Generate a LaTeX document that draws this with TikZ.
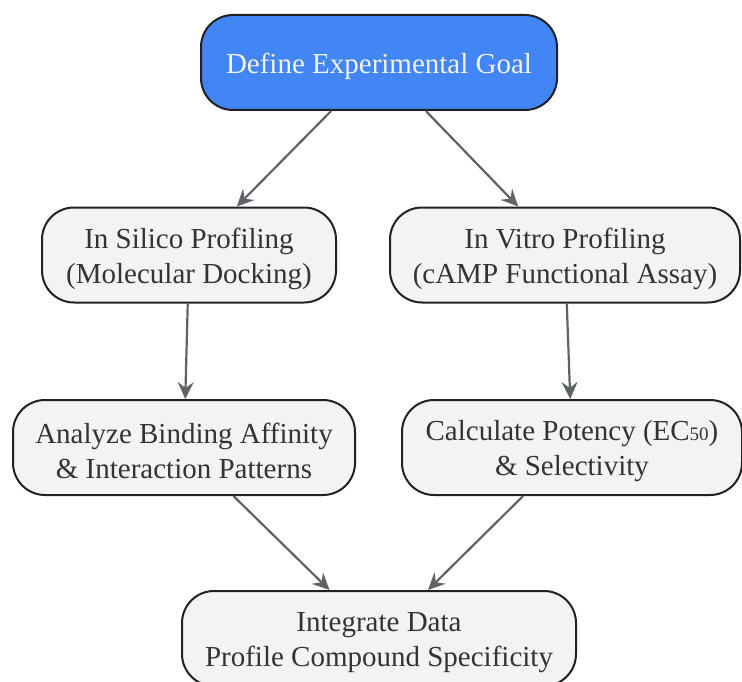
\documentclass[tikz,border=0pt]{standalone}
\usepackage{fontspec}
\setmainfont{Liberation Serif}
\usepackage{tikz}
\usetikzlibrary{arrows.meta}

\definecolor{goalblue}{HTML}{4285F4}
\definecolor{boxfill}{HTML}{F1F3F4}
\definecolor{boxline}{HTML}{202124}
\definecolor{boxtext}{HTML}{333333}
\definecolor{arrowgray}{HTML}{5F6368}

\begin{document}
\begin{tikzpicture}[x = 1pt, y = -1pt,
		box/.style = {draw = boxline, line width = 2pt, fill = boxfill, text = boxtext, rounded corners = 32pt,
			align = center, inner sep = 0pt, minimum height = 95pt, font = \fontsize{29}{35}\selectfont,
			text height = 63pt},
		goalbox/.style = {box, fill = goalblue, text = boxfill, text height = 28pt},
		link/.style = {draw = arrowgray, line width = 2.2pt, -{Stealth[length = 17pt, width = 16pt, inset = 6pt]}}]
		\useasboundingbox (0, 0) rectangle (742, 682);
		\node[goalbox, minimum width = 356pt] (goal) at (379, 62.5) {Define Experimental Goal};
		\node[box, minimum width = 294pt] (silico) at (189, 255) {In Silico Profiling\\(Molecular Docking)};
		\node[box, minimum width = 350pt] (vitro) at (565, 255) {In Vitro Profiling\\(cAMP Functional Assay)};
		\node[box, minimum width = 342pt] (analyze) at (184, 447.5) {Analyze Binding Affinity\\\& Interaction Patterns};
		\node[box, minimum width = 340pt] (potency) at (572, 447.5) {Calculate Potency (EC{\fontsize{19}{19}\selectfont 50})\\\& Selectivity};
		\node[box, minimum width = 394pt] (integrate) at (379, 638.5) {Integrate Data\\Profile Compound Specificity};
		% arrows
		\draw[link] (goal) -- (silico);
		\draw[link] (goal) -- (vitro);
		\draw[link] (silico) -- (analyze);
		\draw[link] (vitro) -- (potency);
		\draw[link] (analyze) -- (integrate);
		\draw[link] (potency) -- (integrate);
	\end{tikzpicture}
\end{document}
